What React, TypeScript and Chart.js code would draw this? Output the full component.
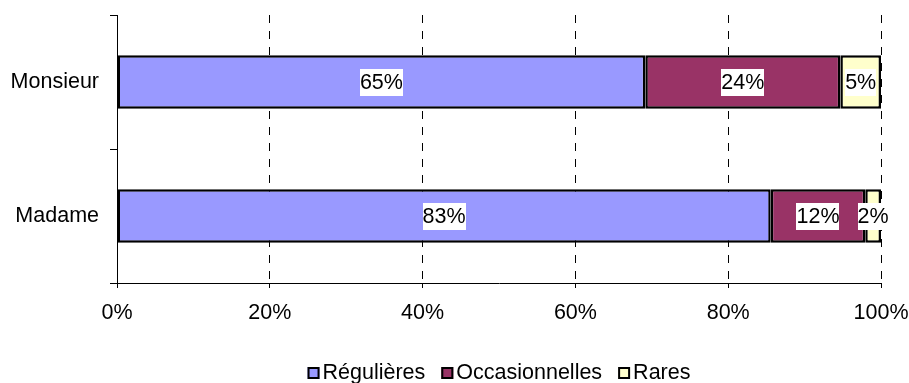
import React, { useEffect, useRef } from "react";
import { Chart, registerables } from "chart.js";

Chart.register(...registerables);

// Categories and raw percentages per frequency
const categories = ["Monsieur", "Madame"];
const seriesNames = ["Régulières", "Occasionnelles", "Rares"];
const regulieres = [65, 83];
const occasionnelles = [24, 12];
const rares = [5, 2];
const xTicks = [0, 20, 40, 60, 80, 100];

const seriesValues = [regulieres, occasionnelles, rares];
const seriesColors = ["#9999FF", "#993366", "#FFFFCC"];

const FONT_FAMILY = '"Liberation Sans", Arial, Helvetica, sans-serif';
const FONT_SIZE = 21.5;

// Share of each series within its category (100% stacked)
const totals = categories.map((_, i) =>
  seriesValues.reduce((s, arr) => s + arr[i], 0)
);
const shares = seriesValues.map((arr) => arr.map((v, i) => (v / totals[i]) * 100));

// Value labels on white boxes, centred in each segment
const valueLabels = {
  id: "valueLabels",
  afterDatasetsDraw(chart: any) {
    const ctx = chart.ctx;
    ctx.save();
    ctx.font = `${FONT_SIZE}px ${FONT_FAMILY}`;
    ctx.textAlign = "center";
    ctx.textBaseline = "middle";
    chart.data.datasets.forEach((ds: any, di: number) => {
      const meta = chart.getDatasetMeta(di);
      meta.data.forEach((bar: any, i: number) => {
        const text = `${ds.raw[i]}%`;
        const cx = (bar.x + bar.base) / 2;
        const cy = bar.y;
        const w = ctx.measureText(text).width;
        ctx.fillStyle = "#FFFFFF";
        ctx.fillRect(Math.round(cx - w / 2), Math.round(cy - 13.5), Math.round(w), 27);
        ctx.fillStyle = "#000000";
        ctx.fillText(text, cx, cy + 1);
      });
    });
    ctx.restore();
  },
};

// Legend row centred under the plot area
const bottomLegend = {
  id: "bottomLegend",
  afterDraw(chart: any) {
    const ctx = chart.ctx;
    const area = chart.chartArea;
    ctx.save();
    ctx.font = `${FONT_SIZE}px ${FONT_FAMILY}`;
    const box = 12;
    const gapBoxText = 3;
    const gapItems = 16;
    const widths = chart.data.datasets.map((ds: any) => ctx.measureText(ds.label).width);
    const total =
      widths.reduce((s: number, w: number) => s + w + box + gapBoxText, 0) +
      gapItems * (widths.length - 1);
    let x = (area.left + area.right) / 2 - total / 2;
    const baseline = 379;
    chart.data.datasets.forEach((ds: any, i: number) => {
      ctx.fillStyle = ds.backgroundColor;
      ctx.fillRect(x, baseline - 12, box, box);
      ctx.strokeStyle = "#000000";
      ctx.lineWidth = 2;
      ctx.strokeRect(x + 1, baseline - 11, box - 2, box - 2);
      ctx.fillStyle = "#000000";
      ctx.textAlign = "left";
      ctx.textBaseline = "alphabetic";
      ctx.fillText(ds.label, x + box + gapBoxText, baseline);
      x += box + gapBoxText + widths[i] + gapItems;
    });
    ctx.restore();
  },
};

export default function App() {
  const canvasRef = useRef<HTMLCanvasElement | null>(null);

  useEffect(() => {
    if (!canvasRef.current) return;
    const chart = new Chart(canvasRef.current, {
      type: "bar",
      data: {
        labels: categories,
        datasets: seriesNames.map((name, si) => ({
          label: name,
          data: shares[si],
          raw: seriesValues[si],
          backgroundColor: seriesColors[si],
          borderColor: "#000000",
          borderWidth: 2.5,
          borderSkipped: false,
          barPercentage: 0.4,
          categoryPercentage: 1,
        })) as any,
      },
      options: {
        indexAxis: "y",
        animation: false,
        responsive: false,
        layout: { padding: { top: 15, right: 28, left: 0, bottom: 0 } },
        plugins: {
          legend: { display: false },
          tooltip: { enabled: false },
        },
        scales: {
          x: {
            type: "linear",
            stacked: true,
            min: 0,
            max: 100,
            afterBuildTicks: (scale: any) => {
              scale.ticks = xTicks.map((v) => ({ value: v }));
            },
            afterFit: (scale: any) => {
              scale.height = 100;
              scale.paddingLeft = 0;
              scale.paddingRight = 0;
            },
            ticks: {
              callback: (v: any) => `${v}%`,
              color: "#000000",
              font: { family: FONT_FAMILY, size: FONT_SIZE },
              padding: 12,
              maxRotation: 0,
            },
            grid: {
              color: "#000000",
              lineWidth: 1,
              tickLength: 5,
              tickColor: "#000000",
            },
            border: { display: true, color: "#000000", width: 1, dash: [8, 8] },
          },
          y: {
            type: "category",
            stacked: true,
            afterFit: (scale: any) => {
              scale.width = 117;
              scale.paddingTop = 0;
              scale.paddingBottom = 0;
            },
            ticks: {
              color: "#000000",
              font: { family: FONT_FAMILY, size: FONT_SIZE },
              padding: 11,
            },
            grid: {
              drawOnChartArea: false,
              drawTicks: true,
              tickLength: 7,
              color: "#000000",
              lineWidth: 1,
            },
            border: { display: true, color: "#000000", width: 1 },
          },
        },
      } as any,
      plugins: [valueLabels, bottomLegend],
    });
    return () => chart.destroy();
  }, []);

  return (
    <div style={{ position: "fixed", left: 0, top: 0, width: 909, height: 383, background: "#FFFFFF" }}>
      <canvas ref={canvasRef} width={909} height={383} />
    </div>
  );
}
